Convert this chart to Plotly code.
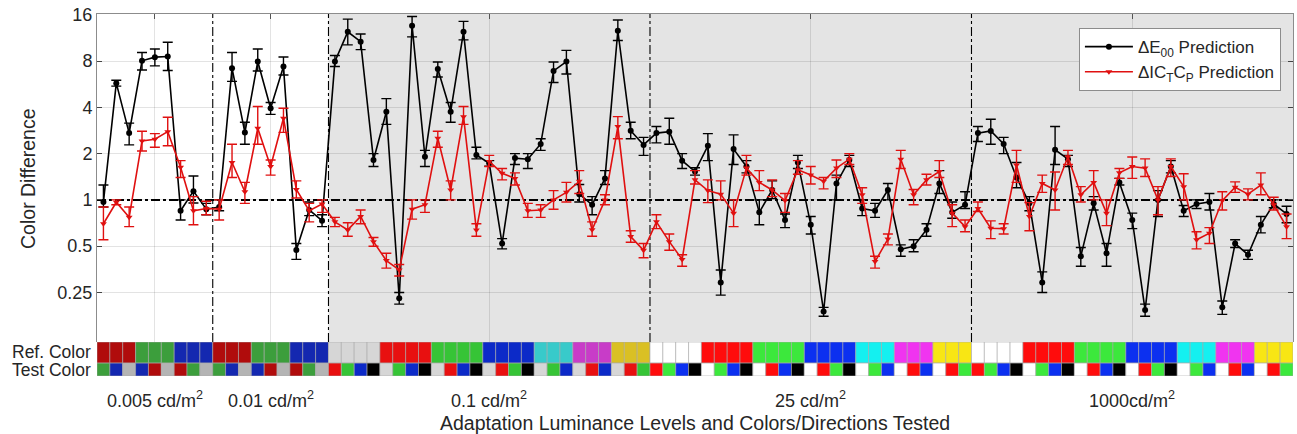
import plotly.graph_objects as go

# ---------------- data ----------------
level_labels = ["0.005 cd/m<sup>2</sup>", "0.01 cd/m<sup>2</sup>", "0.1 cd/m<sup>2</sup>",
                "25 cd/m<sup>2</sup>", "1000cd/m<sup>2</sup>"]
level_sizes = [9, 9, 25, 25, 25]
level_palettes = ["dim", "dim", "mid", "bright", "bright"]

# reference / test colour per tested stimulus (grouped per level)
ref_dim = ["R", "R", "R", "G", "G", "G", "B", "B", "B"]
test_dim = ["G", "B", "W", "B", "R", "W", "R", "G", "W"]
ref_full = ["W", "W", "W", "W", "R", "R", "R", "R", "G", "G", "G", "G", "B", "B", "B", "B",
            "C", "C", "C", "M", "M", "M", "Y", "Y", "Y"]
test_full = ["R", "G", "B", "K", "W", "G", "B", "K", "W", "R", "B", "K", "W", "R", "G", "K",
             "W", "G", "B", "W", "R", "B", "W", "R", "G"]

palettes = {
    "dim": {"R": "#b00c0c", "G": "#3c9e3c", "B": "#1428b0", "W": "#b4b4b4", "K": "#000000"},
    "mid": {"R": "#e81010", "G": "#36c436", "B": "#0c2ac8", "C": "#38caca", "M": "#c83cc8",
            "Y": "#dac024", "W": "#d6d6d6", "K": "#000000"},
    "bright": {"R": "#ff0c0c", "G": "#3ce83c", "B": "#0c30f0", "C": "#14f0f0", "M": "#f034f0",
               "Y": "#f8e614", "W": "#ffffff", "K": "#000000"},
}

e00 = [0.97, 5.75, 2.72, 8.03, 8.49, 8.57, 0.85, 1.14, 0.87,
       0.90, 7.2, 2.74, 7.95, 3.95, 7.37, 0.473, 0.86, 0.733,
       7.95, 12.4, 10.7, 1.82, 3.75, 0.229, 13.6, 1.91, 7.1, 3.75, 12.4, 1.96, 1.73,
       0.52, 1.87, 1.84, 2.31, 6.9, 7.95, 1.09, 0.93, 1.38, 12.6, 2.82, 2.28,
       2.72, 2.78, 1.8, 1.53, 2.25, 0.29, 2.14, 1.65, 0.83, 1.16, 0.74, 1.75, 0.69,
       0.188, 1.28, 1.82, 0.88, 0.85, 1.16, 0.478, 0.5, 0.64, 1.28, 0.83, 0.93,
       2.72, 2.81, 2.31, 1.4, 0.95, 0.29, 2.12, 1.84, 0.43, 0.95, 0.45, 1.3, 0.74,
       0.192, 1.0, 1.65, 0.85, 0.94, 0.97, 0.2, 0.52, 0.44, 0.69, 0.94, 0.81]
e00_hi = [1.25, 6.0, 3.16, 9.1, 9.6, 10.6, 1.0, 1.43, 0.95,
          1.0, 9.1, 3.2, 9.6, 4.3, 8.5, 0.52, 0.97, 0.8,
          8.7, 15.0, 12.0, 2.0, 4.56, 0.25, 15.6, 2.1, 7.9, 4.3, 14.5, 2.2, 1.8,
          0.56, 2.0, 2.0, 2.5, 7.9, 9.4, 1.26, 1.05, 1.55, 14.8, 3.2, 2.55,
          3.0, 3.4, 2.0, 1.62, 2.7, 0.35, 2.65, 1.8, 1.0, 1.33, 0.81, 1.95, 0.78,
          0.2, 1.45, 1.95, 1.0, 0.95, 1.28, 0.51, 0.55, 0.7, 1.55, 0.97, 1.13,
          3.0, 3.35, 2.55, 1.75, 1.05, 0.34, 3.0, 1.95, 0.49, 1.05, 0.52, 1.38, 0.82,
          0.21, 1.15, 1.8, 0.92, 1.0, 1.1, 0.22, 0.55, 0.47, 0.78, 1.0, 0.91]
e00_lo = [0.9, 5.5, 2.28, 7.0, 7.45, 6.95, 0.74, 0.955, 0.8,
          0.85, 5.9, 2.3, 6.9, 3.6, 6.5, 0.41, 0.79, 0.67,
          7.37, 10.2, 9.5, 1.65, 3.1, 0.21, 11.5, 1.65, 6.3, 3.2, 11.0, 1.85, 1.66,
          0.48, 1.7, 1.6, 2.1, 5.8, 6.6, 0.97, 0.8, 1.26, 10.9, 2.5, 1.95,
          2.35, 2.3, 1.6, 1.45, 1.8, 0.24, 1.7, 1.5, 0.69, 1.02, 0.66, 1.6, 0.6,
          0.175, 1.0, 1.65, 0.79, 0.77, 1.0, 0.43, 0.46, 0.58, 1.1, 0.76, 0.88,
          2.4, 2.3, 2.0, 1.2, 0.85, 0.25, 1.7, 1.65, 0.37, 0.86, 0.37, 1.25, 0.65,
          0.175, 0.78, 1.5, 0.78, 0.88, 0.86, 0.18, 0.49, 0.41, 0.61, 0.89, 0.71]

ictcp = [0.70, 0.966, 0.77, 2.42, 2.48, 2.78, 1.63, 0.85, 0.88,
         0.87, 1.75, 1.13, 2.93, 1.65, 3.4, 1.17, 0.85, 0.94,
         0.72, 0.638, 0.78, 0.535, 0.403, 0.35, 0.87, 0.93, 2.52, 1.16, 3.48, 0.638, 1.78,
         1.49, 1.38, 0.85, 0.86, 1.0, 1.12, 1.32, 0.64, 1.0, 3.0, 0.577, 0.47,
         0.72, 0.535, 0.41, 1.35, 1.15, 1.09, 0.82, 1.61, 1.3, 1.16, 0.99, 1.57, 1.45,
         1.32, 1.61, 1.84, 1.08, 0.397, 0.556, 1.84, 1.08, 1.35, 1.53, 0.82, 0.67,
         0.88, 0.654, 0.65, 1.69, 0.78, 1.28, 1.16, 1.91, 1.08, 1.3, 0.82, 1.5, 1.65,
         1.61, 1.0, 1.65, 1.22, 0.55, 0.607, 0.99, 1.21, 1.09, 1.25, 0.93, 0.67]
ictcp_hi = [0.9, 1.0, 0.9, 2.8, 2.7, 3.45, 1.8, 1.05, 0.98,
            1.0, 2.3, 1.3, 4.05, 1.82, 3.95, 1.33, 0.95, 1.0,
            0.77, 0.71, 0.86, 0.57, 0.45, 0.38, 1.0, 1.0, 2.8, 1.33, 4.05, 0.7, 1.95,
            1.6, 1.5, 0.95, 0.93, 1.15, 1.3, 1.55, 0.72, 1.08, 3.48, 0.63, 0.52,
            0.8, 0.6, 0.44, 1.55, 1.35, 1.33, 1.0, 1.95, 1.55, 1.35, 1.1, 1.8, 1.65,
            1.4, 1.82, 2.0, 1.2, 0.43, 0.6, 2.1, 1.17, 1.47, 1.8, 0.93, 0.74,
            0.97, 0.73, 0.7, 2.1, 0.96, 1.45, 1.52, 2.1, 1.22, 1.55, 1.0, 1.6, 1.9,
            1.85, 1.22, 1.85, 1.48, 0.62, 0.66, 1.13, 1.31, 1.18, 1.5, 1.04, 0.81]
ictcp_lo = [0.55, 0.93, 0.67, 2.08, 2.2, 2.25, 1.4, 0.69, 0.8,
            0.74, 1.4, 0.95, 2.3, 1.45, 2.75, 1.03, 0.72, 0.83,
            0.67, 0.58, 0.7, 0.5, 0.36, 0.32, 0.75, 0.83, 2.2, 1.0, 3.1, 0.58, 1.65,
            1.35, 1.25, 0.77, 0.77, 0.87, 0.97, 1.1, 0.58, 0.93, 2.5, 0.53, 0.42,
            0.65, 0.47, 0.37, 1.27, 0.96, 1.0, 0.67, 1.45, 1.15, 1.05, 0.83, 1.47, 1.27,
            1.18, 1.4, 1.7, 0.95, 0.36, 0.51, 1.6, 0.93, 1.25, 1.4, 0.67, 0.62,
            0.84, 0.56, 0.6, 1.3, 0.63, 1.12, 0.86, 1.7, 0.97, 1.0, 0.68, 1.38, 1.38,
            1.42, 0.8, 1.42, 1.0, 0.48, 0.52, 0.86, 1.12, 1.0, 1.08, 0.86, 0.56]

y_ticks = [0.25, 0.5, 1, 2, 4, 8, 16]
y_tick_text = ["0.25", "0.5", "1", "2", "4", "8", "16"]

# ---------------- derived ----------------
n = len(e00)
xs = list(range(1, n + 1))
ref_cells, test_cells, pal_cells = [], [], []
for size, pal in zip(level_sizes, level_palettes):
    r, t = (ref_dim, test_dim) if size == 9 else (ref_full, test_full)
    ref_cells += r
    test_cells += t
    pal_cells += [pal] * size

bounds, centers = [], []
start = 0
for size in level_sizes:
    centers.append(start + (size + 1) / 2)
    start += size
    bounds.append(start + 0.5)
bounds = bounds[:-1]

FONT = "Liberation Sans, Arial, Helvetica, sans-serif"
TXT = "#262626"

fig = go.Figure()

# horizontal reference at 1
fig.add_trace(go.Scatter(x=[0.5, n + 0.5], y=[1, 1], mode="lines",
                         line=dict(color="black", width=2, dash="dashdot"),
                         showlegend=False, hoverinfo="skip"))

fig.add_trace(go.Scatter(
    x=xs, y=e00, mode="lines+markers", name="\u0394E<sub>00</sub> Prediction",
    line=dict(color="black", width=1.6),
    marker=dict(symbol="circle", size=6, color="black"),
    error_y=dict(type="data", symmetric=False,
                 array=[h - v for h, v in zip(e00_hi, e00)],
                 arrayminus=[v - l for v, l in zip(e00, e00_lo)],
                 color="black", thickness=1.4, width=5)))

fig.add_trace(go.Scatter(
    x=xs, y=ictcp, mode="lines+markers", name="\u0394IC<sub>T</sub>C<sub>P</sub> Prediction",
    line=dict(color="#e01010", width=1.6),
    marker=dict(symbol="triangle-down", size=6, color="#e01010"),
    error_y=dict(type="data", symmetric=False,
                 array=[h - v for h, v in zip(ictcp_hi, ictcp)],
                 arrayminus=[v - l for v, l in zip(ictcp, ictcp_lo)],
                 color="#e01010", thickness=1.4, width=5)))

# dummy trace to create the colour-strip subplot
fig.add_trace(go.Scatter(x=[1], y=[0.5], xaxis="x", yaxis="y2", mode="markers",
                         marker=dict(opacity=0), showlegend=False, hoverinfo="skip"))

shapes = []
# gray background for the upper three levels
shapes.append(dict(type="rect", xref="x", yref="y domain", x0=bounds[1], x1=n + 0.5, y0=0, y1=1,
                   fillcolor="#e4e4e4", line=dict(width=0), layer="below"))
for b in bounds:
    shapes.append(dict(type="line", xref="x", yref="y domain", x0=b, x1=b, y0=0, y1=1,
                       line=dict(color="black", width=1.1, dash="dashdot"), layer="below"))

# colour strip
for i in range(n):
    pal = palettes[pal_cells[i]]
    shapes.append(dict(type="rect", xref="x", yref="y2", x0=i + 0.5, x1=i + 1.5, y0=0.38, y1=1,
                       fillcolor=pal[ref_cells[i]], line=dict(color="#a8a8a8", width=0.6),
                       layer="above"))
    shapes.append(dict(type="rect", xref="x", yref="y2", x0=i + 0.5, x1=i + 1.5, y0=0, y1=0.38,
                       fillcolor=pal[test_cells[i]], line=dict(color="#a8a8a8", width=0.6),
                       layer="above"))

annotations = []
for c, lab in zip(centers, level_labels):
    annotations.append(dict(x=c, y=-0.066, xref="x", yref="paper", text=lab, showarrow=False,
                            font=dict(family=FONT, size=18, color=TXT), yanchor="middle"))
annotations.append(dict(x=0.5, y=-0.131, xref="paper", yref="paper",
                        text="Adaptation Luminance Levels and Colors/Directions Tested",
                        showarrow=False, font=dict(family=FONT, size=19.5, color=TXT),
                        yanchor="middle"))
annotations.append(dict(x=-0.003, y=0.066, xref="paper", yref="paper", text="Ref. Color",
                        showarrow=False, xanchor="right", yanchor="middle",
                        font=dict(family=FONT, size=17.5, color=TXT)))
annotations.append(dict(x=-0.003, y=0.017, xref="paper", yref="paper", text="Test Color",
                        showarrow=False, xanchor="right", yanchor="middle",
                        font=dict(family=FONT, size=17.5, color=TXT)))
annotations.append(dict(x=-0.0577, y=0.547, xref="paper", yref="paper", text="Color Difference",
                        showarrow=False, textangle=-90, xanchor="center", yanchor="middle",
                        font=dict(family=FONT, size=19.5, color=TXT)))

fig.update_layout(
    width=1297, height=434,
    margin=dict(l=97, r=4, t=14, b=58),
    paper_bgcolor="white", plot_bgcolor="white",
    font=dict(family=FONT, size=16, color=TXT),
    xaxis=dict(range=[0.5, n + 0.5], side="top", anchor="y", showline=True, linecolor="#8c8c8c",
               linewidth=1, mirror=False, ticks="inside", ticklen=5, tickcolor="#555",
               tickvals=centers, showticklabels=False, showgrid=True,
               gridcolor="rgba(0,0,0,0.11)", zeroline=False),
    yaxis=dict(type="log", domain=[0.0939, 1], range=[-0.9245, 1.2095],
               tickvals=y_ticks, ticktext=y_tick_text, ticks="inside", ticklen=5,
               tickcolor="#444", showline=True, linecolor="#8c8c8c", linewidth=1,
               mirror="ticks", showgrid=True, gridcolor="rgba(0,0,0,0.11)",
               tickfont=dict(family=FONT, size=18, color=TXT), zeroline=False),
    yaxis2=dict(domain=[0, 0.0939], range=[0, 1], anchor="x", showgrid=False,
                showticklabels=False, zeroline=False, ticks="", showline=False),
    legend=dict(x=0.821, y=0.961, xanchor="left", yanchor="top", bgcolor="white",
                bordercolor="#8c8c8c", borderwidth=1, font=dict(family=FONT, size=17, color=TXT),
                itemwidth=48, tracegroupgap=0),
    shapes=shapes, annotations=annotations,
)

# remove the browser's default 8px body margin so the figure sits at the page origin
fig.write_html("out.html", config={"displayModeBar": False},
               post_script="document.body.style.margin='0';")
